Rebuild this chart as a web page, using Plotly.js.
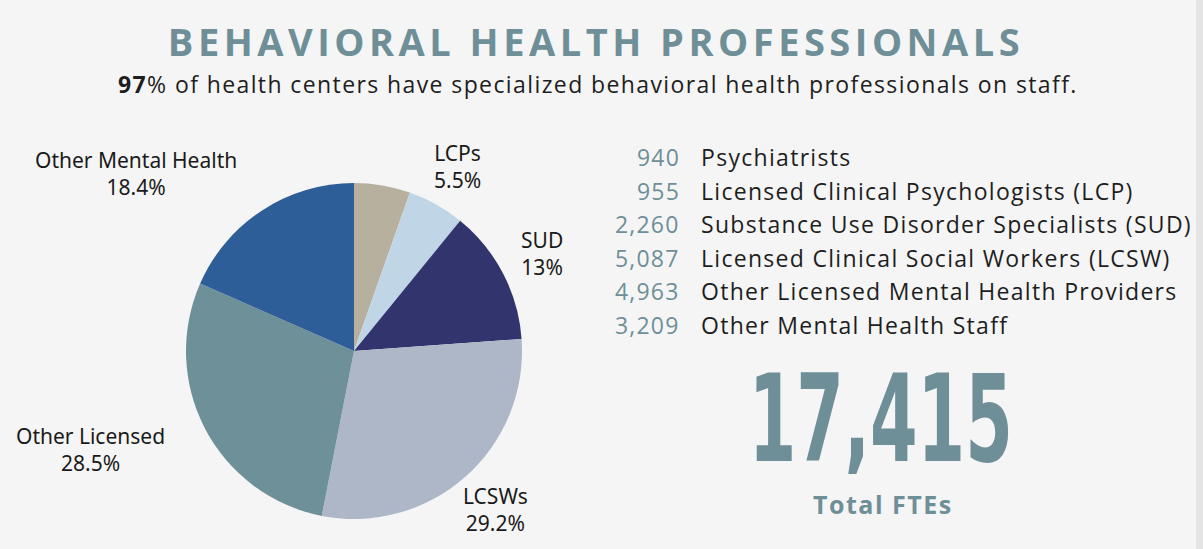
<!DOCTYPE html>
<html>
<head>
<meta charset="utf-8">
<script src="https://cdn.plot.ly/plotly-3.0.1.min.js"></script>
<style>
html,body{margin:0;padding:0;background:#F5F5F5;}
#chart{width:1203px;height:549px;}
.gtitle{letter-spacing:4.5px;}
</style>
</head>
<body>
<div id="chart"></div>
<script>
// ---- data ----
const categories = ["Psychiatrists", "Licensed Clinical Psychologists (LCP)", "Substance Use Disorder Specialists (SUD)", "Licensed Clinical Social Workers (LCSW)", "Other Licensed Mental Health Providers", "Other Mental Health Staff"];
const shortLabels = ["", "LCPs", "SUD", "LCSWs", "Other Licensed", "Other Mental Health"];
const pctLabels = ["", "5.5%", "13%", "29.2%", "28.5%", "18.4%"];
const fteValues = [940, 955, 2260, 5087, 4963, 3209];
const totalFTE = 17415;
const sharePct = 97;
const colors = ["#B8B09F", "#C0D5E6", "#31346D", "#AEB7C7", "#6E9098", "#2E5E97"];

const W = 1203, H = 549;
const px = x => x / W;
const py = y => 1 - y / H;
const accent = "#6E8F98";
const sp = (t, s) => '<span style="letter-spacing:' + s + 'px">' + t + '</span>';

// pie label positions (pixels, centre of first line)
const labelPos = [null, [458, 153], [542, 239], [495, 495], [90, 435], [136, 159]];

const annotations = [];
shortLabels.forEach((s, i) => {
  if (!s) return;
  annotations.push({
    xref: "paper", yref: "paper", x: px(labelPos[i][0]), y: py(labelPos[i][1] + 14),
    xanchor: "center", yanchor: "middle", showarrow: false,
    text: s + "<br>" + pctLabels[i],
    font: {family: "Noto Sans, sans-serif", size: 21, color: "#1a1a1a"},
    align: "center"
  });
});

// list
const rowY0 = 157, rowStep = 33.6;
categories.forEach((c, i) => {
  const y = py(rowY0 + i * rowStep);
  annotations.push({
    xref: "paper", yref: "paper", x: px(682), y: y, xanchor: "right", yanchor: "middle",
    showarrow: false, text: sp(fteValues[i].toLocaleString("en-US"), 1.2),
    font: {family: "Open Sans, sans-serif", size: 23, color: accent, weight: 500}
  });
  annotations.push({
    xref: "paper", yref: "paper", x: px(699), y: y, xanchor: "left", yanchor: "middle",
    showarrow: false, text: sp(c, 1.3),
    font: {family: "Open Sans, sans-serif", size: 23, color: "#1e1e1e"}
  });
});

// subtitle
annotations.push({
  xref: "paper", yref: "paper", x: px(598), y: py(84), xanchor: "center", yanchor: "middle",
  showarrow: false,
  text: sp("<b>" + sharePct + "</b>% of health centers have specialized behavioral health professionals on staff.", 1.4),
  font: {family: "Open Sans, sans-serif", size: 23, color: "#1e1e1e"}
});

// big total (index noted for post-render narrowing)
const bigIdx = annotations.length;
annotations.push({
  xref: "paper", yref: "paper", x: px(881), y: py(419), xanchor: "center", yanchor: "middle",
  showarrow: false, text: "<b>" + totalFTE.toLocaleString("en-US") + "</b>",
  height: 110,
  font: {family: "DejaVu Sans Condensed, DejaVu Sans, sans-serif", size: 122, color: accent}
});
annotations.push({
  xref: "paper", yref: "paper", x: px(883), y: py(504), xanchor: "center", yanchor: "middle",
  showarrow: false, text: sp("<b>Total FTEs</b>", 1.5),
  font: {family: "Open Sans, sans-serif", size: 25, color: accent}
});

const data = [{
  type: "pie",
  values: fteValues,
  labels: categories,
  marker: {colors: colors, line: {width: 0}},
  sort: false,
  direction: "clockwise",
  rotation: 0,
  textinfo: "none",
  hoverinfo: "label+value+percent",
  showlegend: false,
  domain: {x: [px(186), px(522)], y: [py(519), py(183)]}
}];

const layout = {
  width: W, height: H,
  margin: {l: 0, r: 0, t: 0, b: 0},
  paper_bgcolor: "#F5F5F5",
  plot_bgcolor: "#F5F5F5",
  title: {
    text: "<b>BEHAVIORAL HEALTH PROFESSIONALS</b>",
    font: {family: "Open Sans, sans-serif", size: 38, color: accent},
    x: px(596), xanchor: "center", y: py(43), yanchor: "middle", xref: "paper", yref: "paper"
  },
  annotations: annotations,
  shapes: [{
    type: "rect", xref: "paper", yref: "paper", x0: px(1196), x1: 1, y0: 0, y1: 1,
    fillcolor: "#E4E4E4", line: {width: 0}, layer: "below"
  }]
};

Plotly.newPlot("chart", data, layout, {displayModeBar: false, staticPlot: true}).then(() => {
  const ann = document.querySelectorAll("#chart .annotation")[bigIdx];
  if (!ann) return;
  const t = ann.querySelector("text");
  if (!t) return;
  const bb = t.getBBox();
  const targetW = 264;
  const sx = targetW / bb.width;
  const cx = bb.x + bb.width / 2;
  t.setAttribute("transform", "translate(" + cx + ",0) scale(" + sx + ",1) translate(" + (-cx) + ",0)");
});
</script>
</body>
</html>
